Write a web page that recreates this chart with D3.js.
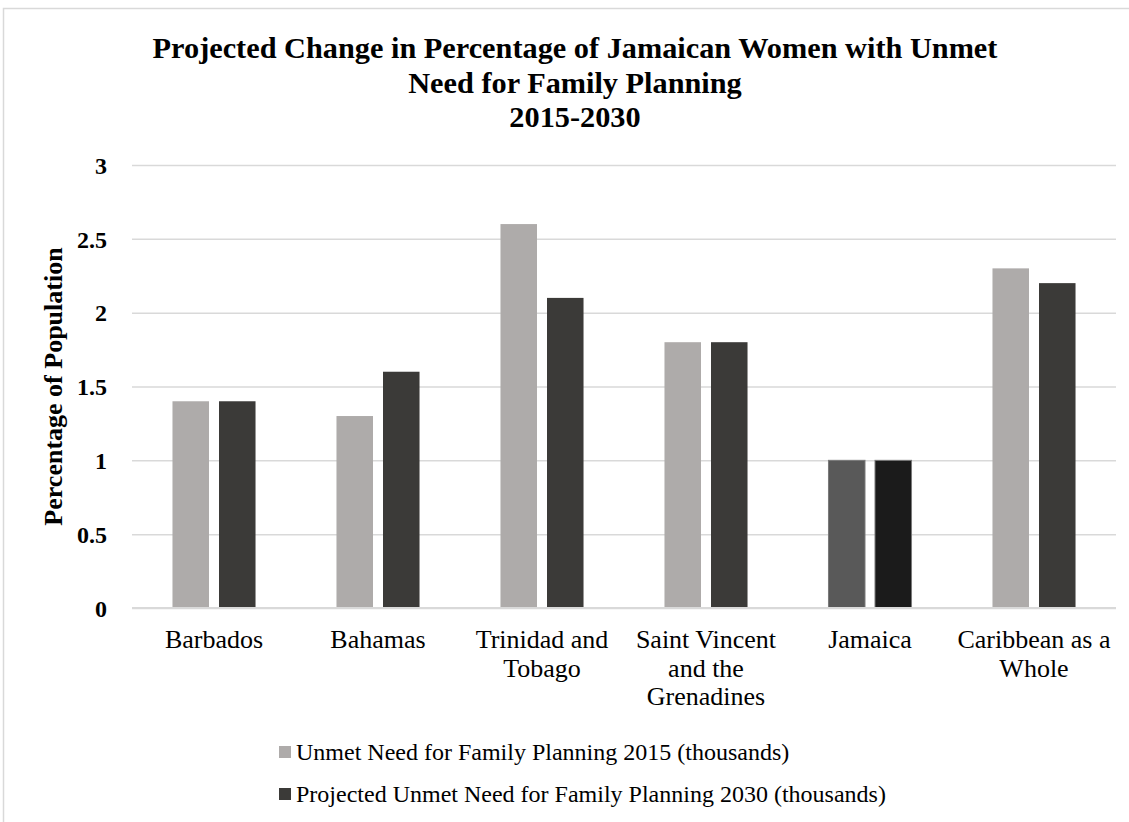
<!DOCTYPE html>
<html>
<head>
<meta charset="utf-8">
<script src="https://cdn.jsdelivr.net/npm/d3@7"></script>
</head>
<body style="margin:0;background:#fff">
<svg id="chart" width="1129" height="822" style="display:block"></svg>
<script>
// Chart data
const categories = [
  ["Barbados"],
  ["Bahamas"],
  ["Trinidad and", "Tobago"],
  ["Saint Vincent", "and the", "Grenadines"],
  ["Jamaica"],
  ["Caribbean as a", "Whole"]
];
const need2015 = [1.4, 1.3, 2.6, 1.8, 1.0, 2.3];
const need2030 = [1.4, 1.6, 2.1, 1.8, 1.0, 2.2];
const seriesNames = [
  "Unmet Need for Family Planning 2015 (thousands)",
  "Projected Unmet Need for Family Planning 2030 (thousands)"
];
const yTicks = [0, 0.5, 1, 1.5, 2, 2.5, 3];
const titleLines = [
  "Projected Change in Percentage of Jamaican Women with Unmet",
  "Need for Family Planning",
  "2015-2030"
];

// Fill colours; Jamaica is highlighted with its own darker pair
const fills = ["#AEABAA", "#3B3A38"];
const highlightFills = ["#595959", "#1B1B1B"];
const highlightIndex = 4;

const FONT = "Liberation Serif";
const svg = d3.select("#chart");
const W = 1129, H = 822;
const m = { left: 132, right: 13, top: 165, bottom: 214 };
const plotW = W - m.left - m.right;
const plotH = H - m.top - m.bottom;

function styleText(sel, size, weight) {
  return sel.attr("font-family", null)
    .style("font-family", FONT)
    .style("font-size", size + "px")
    .style("font-weight", weight || "normal")
    .attr("fill", "#000");
}

// Outer chart-area border
svg.append("rect")
  .attr("x", 3.5).attr("y", 8.5)
  .attr("width", W + 10).attr("height", H + 10)
  .attr("fill", "none").attr("stroke", "#d9d9d9").attr("stroke-width", 1.5);

// Title
const title = styleText(svg.append("text").attr("text-anchor", "middle"), 30.3, "bold");
titleLines.forEach((t, i) => {
  title.append("tspan").attr("x", 575).attr("y", 58 + i * 34.5).text(t);
});

const g = svg.append("g").attr("transform", `translate(${m.left},${m.top})`);

const y = d3.scaleLinear().domain([0, 3]).range([plotH, 0]);
const idx = d3.range(categories.length);
const x0 = d3.scaleBand().domain(idx).range([0, plotW]).paddingInner(0).paddingOuter(0);
const x1 = d3.scaleBand().domain([0, 1]).range([0, x0.bandwidth()])
  .paddingInner(0.215).paddingOuter(0.87);

// Gridlines and value labels
const yAxis = d3.axisLeft(y).tickValues(yTicks).tickSize(-plotW).tickFormat(d3.format("~g"));
const ya = g.append("g").call(yAxis);
ya.attr("font-family", null).attr("font-size", null);
ya.select(".domain").remove();
ya.selectAll(".tick line").attr("stroke", "#d9d9d9").attr("stroke-width", 1.5);
styleText(ya.selectAll(".tick text"), 24, "bold")
  .attr("x", -25)
  .attr("dy", "0.34em");

// Bars
const series = [need2015, need2030];
const groups = g.selectAll(".cat").data(idx).join("g")
  .attr("class", "cat")
  .attr("transform", d => `translate(${x0(d)},0)`);
groups.selectAll("rect").data(ci => series.map((s, si) => ({ ci, si, v: s[ci] }))).join("rect")
  .attr("x", d => x1(d.si))
  .attr("width", x1.bandwidth())
  .attr("y", d => y(d.v))
  .attr("height", d => y(0) - y(d.v))
  .attr("fill", d => (d.ci === highlightIndex ? highlightFills : fills)[d.si])
  .attr("stroke", d => d.ci === highlightIndex ? "#7a7a7a" : "none")
  .attr("stroke-width", 1);

// Baseline
g.append("line").attr("x1", 0).attr("x2", plotW).attr("y1", y(0)).attr("y2", y(0))
  .attr("stroke", "#d9d9d9").attr("stroke-width", 2);

// Category labels
const xa = g.append("g").attr("transform", `translate(0,${plotH})`);
idx.forEach(i => {
  const t = styleText(xa.append("text").attr("text-anchor", "middle"), 26);
  categories[i].forEach((line, li) => {
    t.append("tspan")
      .attr("x", x0(i) + x0.bandwidth() / 2)
      .attr("y", 40 + li * 28.7)
      .text(line);
  });
});

// Y axis title
styleText(svg.append("text"), 26, "bold")
  .attr("transform", `translate(62,${m.top + plotH / 2}) rotate(-90)`)
  .attr("text-anchor", "middle")
  .text("Percentage of Population");

// Legend
const legend = svg.append("g");
seriesNames.forEach((name, i) => {
  const base = 760 + i * 42;
  legend.append("rect").attr("x", 279).attr("y", base - 14).attr("width", 12).attr("height", 12)
    .attr("fill", fills[i]);
  styleText(legend.append("text"), 24).attr("x", 296).attr("y", base).text(name);
});
</script>
</body>
</html>
